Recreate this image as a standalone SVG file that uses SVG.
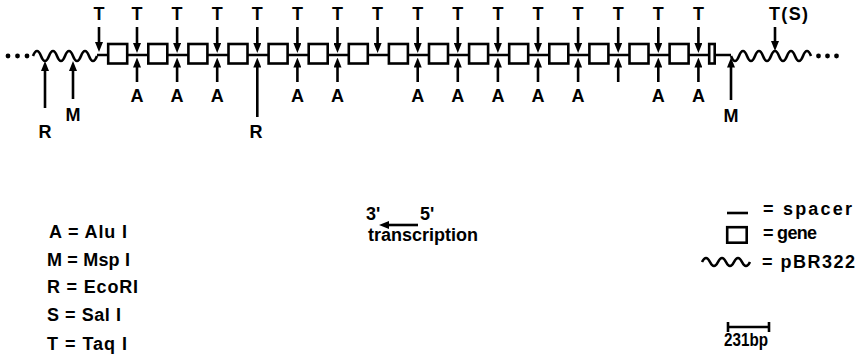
<svg xmlns="http://www.w3.org/2000/svg" width="862" height="356" viewBox="0 0 862 356">
<style>
  text { font-family: "Liberation Sans", Arial, sans-serif; font-weight: bold; fill: #000; }
  .lbl { font-size: 18px; text-anchor: middle; }
  .leg { font-size: 18px; }
  .dna { fill: none; stroke: #000; stroke-width: 2.6; }
  .gene { fill: #fff; stroke: #000; stroke-width: 2.6; }
  .arr { fill: none; stroke: #000; stroke-width: 2.6; marker-end: url(#ah); }
  .dot { fill: #000; }
</style>
<defs>
  <marker id="ah" viewBox="0 0 10 8" refX="1" refY="4" markerWidth="10" markerHeight="8" markerUnits="userSpaceOnUse" orient="auto">
    <path d="M0,0 L10,4 L0,8 z" fill="#000"/>
  </marker>
</defs>
<rect width="862" height="356" fill="#fff"/>

<g id="dna">
  <circle class="dot" cx="8" cy="56" r="2.4"/>
  <circle class="dot" cx="17.5" cy="56" r="2.4"/>
  <circle class="dot" cx="27" cy="56" r="2.4"/>
  <path class="dna" d="M33,56 q4,-10 8,0 t8,0 t8,0 t8,0 t8,0 t8,0 t8,0 t8,0"/>
  <line class="dna" x1="97" y1="55" x2="731" y2="55"/>
  <path class="dna" d="M731,56 q4,10 8,0 t8,0 t8,0 t8,0 t8,0 t8,0 t8,0 t8,0 t8,0 t8,0"/>
  <circle class="dot" cx="818.5" cy="56" r="2.4"/>
  <circle class="dot" cx="827.5" cy="56" r="2.4"/>
  <circle class="dot" cx="836.5" cy="56" r="2.4"/>
  <g id="genes">
    <rect class="gene" x="108.2" y="44" width="19" height="19.5"/>
    <rect class="gene" x="148.3" y="44" width="19" height="19.5"/>
    <rect class="gene" x="188.4" y="44" width="19" height="19.5"/>
    <rect class="gene" x="228.5" y="44" width="19" height="19.5"/>
    <rect class="gene" x="268.6" y="44" width="19" height="19.5"/>
    <rect class="gene" x="308.7" y="44" width="19" height="19.5"/>
    <rect class="gene" x="348.8" y="44" width="19" height="19.5"/>
    <rect class="gene" x="388.9" y="44" width="19" height="19.5"/>
    <rect class="gene" x="429.0" y="44" width="19" height="19.5"/>
    <rect class="gene" x="469.1" y="44" width="19" height="19.5"/>
    <rect class="gene" x="509.2" y="44" width="19" height="19.5"/>
    <rect class="gene" x="549.3" y="44" width="19" height="19.5"/>
    <rect class="gene" x="589.4" y="44" width="19" height="19.5"/>
    <rect class="gene" x="629.5" y="44" width="19" height="19.5"/>
    <rect class="gene" x="669.6" y="44" width="19" height="19.5"/>
    <rect class="gene" x="709.2" y="44" width="5.5" height="19.5"/>
  </g>
</g>

<g id="connectors">
  <!-- TaqI sites (top) -->
  <line class="arr" x1="99" y1="27" x2="99" y2="43"/>
  <line class="arr" x1="137" y1="27" x2="137" y2="44"/>
  <line class="arr" x1="177.1" y1="27" x2="177.1" y2="44"/>
  <line class="arr" x1="217.2" y1="27" x2="217.2" y2="44"/>
  <line class="arr" x1="257.3" y1="27" x2="257.3" y2="44"/>
  <line class="arr" x1="297.4" y1="27" x2="297.4" y2="44"/>
  <line class="arr" x1="337.5" y1="27" x2="337.5" y2="44"/>
  <line class="arr" x1="377.6" y1="27" x2="377.6" y2="44"/>
  <line class="arr" x1="417.7" y1="27" x2="417.7" y2="44"/>
  <line class="arr" x1="457.8" y1="27" x2="457.8" y2="44"/>
  <line class="arr" x1="497.9" y1="27" x2="497.9" y2="44"/>
  <line class="arr" x1="538" y1="27" x2="538" y2="44"/>
  <line class="arr" x1="578.1" y1="27" x2="578.1" y2="44"/>
  <line class="arr" x1="618.2" y1="27" x2="618.2" y2="44"/>
  <line class="arr" x1="658.3" y1="27" x2="658.3" y2="44"/>
  <line class="arr" x1="698.4" y1="27" x2="698.4" y2="44"/>
  <line class="arr" x1="775" y1="27" x2="775" y2="42"/>
  <!-- AluI sites (bottom) -->
  <line class="arr" x1="137" y1="82" x2="137" y2="66.5"/>
  <line class="arr" x1="177.1" y1="82" x2="177.1" y2="66.5"/>
  <line class="arr" x1="217.2" y1="82" x2="217.2" y2="66.5"/>
  <line class="arr" x1="297.4" y1="82" x2="297.4" y2="66.5"/>
  <line class="arr" x1="337.5" y1="82" x2="337.5" y2="66.5"/>
  <line class="arr" x1="417.7" y1="82" x2="417.7" y2="66.5"/>
  <line class="arr" x1="457.8" y1="82" x2="457.8" y2="66.5"/>
  <line class="arr" x1="497.9" y1="82" x2="497.9" y2="66.5"/>
  <line class="arr" x1="538" y1="82" x2="538" y2="66.5"/>
  <line class="arr" x1="578.1" y1="82" x2="578.1" y2="66.5"/>
  <line class="arr" x1="618.2" y1="82" x2="618.2" y2="66.5"/>
  <line class="arr" x1="658.3" y1="82" x2="658.3" y2="66.5"/>
  <line class="arr" x1="698.4" y1="82" x2="698.4" y2="66.5"/>
  <!-- EcoRI and MspI sites -->
  <line class="arr" x1="45" y1="108" x2="45" y2="70"/>
  <line class="arr" x1="73" y1="99" x2="73" y2="70"/>
  <line class="arr" x1="257.3" y1="117" x2="257.3" y2="66.5"/>
  <line class="arr" x1="731" y1="100" x2="731" y2="66.5"/>
</g>

<g id="site-labels">
  <g id="labels-T">
    <text class="lbl" x="99" y="20">T</text>
    <text class="lbl" x="137" y="20">T</text>
    <text class="lbl" x="177.1" y="20">T</text>
    <text class="lbl" x="217.2" y="20">T</text>
    <text class="lbl" x="257.3" y="20">T</text>
    <text class="lbl" x="297.4" y="20">T</text>
    <text class="lbl" x="337.5" y="20">T</text>
    <text class="lbl" x="377.6" y="20">T</text>
    <text class="lbl" x="417.7" y="20">T</text>
    <text class="lbl" x="457.8" y="20">T</text>
    <text class="lbl" x="497.9" y="20">T</text>
    <text class="lbl" x="538" y="20">T</text>
    <text class="lbl" x="578.1" y="20">T</text>
    <text class="lbl" x="618.2" y="20">T</text>
    <text class="lbl" x="658.3" y="20">T</text>
    <text class="lbl" x="698.4" y="20">T</text>
    <text class="leg" x="769" y="20" textLength="39" lengthAdjust="spacing">T(S)</text>
  </g>
  <g id="labels-A">
    <text class="lbl" x="137" y="102">A</text>
    <text class="lbl" x="177.1" y="102">A</text>
    <text class="lbl" x="217.2" y="102">A</text>
    <text class="lbl" x="297.4" y="102">A</text>
    <text class="lbl" x="337.5" y="102">A</text>
    <text class="lbl" x="417.7" y="102">A</text>
    <text class="lbl" x="457.8" y="102">A</text>
    <text class="lbl" x="497.9" y="102">A</text>
    <text class="lbl" x="538" y="102">A</text>
    <text class="lbl" x="578.1" y="102">A</text>
    <text class="lbl" x="658.3" y="102">A</text>
    <text class="lbl" x="698.4" y="102">A</text>
  </g>
  <g id="labels-RM">
    <text class="lbl" x="45" y="138">R</text>
    <text class="lbl" x="73" y="121">M</text>
    <text class="lbl" x="256" y="138">R</text>
    <text class="lbl" x="731" y="122">M</text>
  </g>
</g>

<g id="legend-enzymes">
  <text class="leg" x="49" y="238" textLength="78" lengthAdjust="spacing">A = Alu I</text>
  <text class="leg" x="47" y="266" textLength="83" lengthAdjust="spacing">M = Msp I</text>
  <text class="leg" x="47" y="293" textLength="91" lengthAdjust="spacing">R = EcoRI</text>
  <text class="leg" x="47" y="321" textLength="74" lengthAdjust="spacing">S = Sal I</text>
  <text class="leg" x="47" y="350" textLength="80" lengthAdjust="spacing">T = Taq I</text>
</g>

<g id="legend-transcription">
  <text class="leg" x="366" y="220">3'</text>
  <text class="leg" x="420" y="220">5'</text>
  <line class="arr" x1="418" y1="225" x2="388" y2="225"/>
  <text class="leg" x="368" y="241" textLength="110" lengthAdjust="spacing">transcription</text>
</g>

<g id="legend-symbols">
  <line class="dna" x1="727" y1="213" x2="748" y2="213"/>
  <text class="leg" x="763" y="215" textLength="89" lengthAdjust="spacing">= spacer</text>
  <rect class="gene" x="727.2" y="227.2" width="19.5" height="15.5"/>
  <text class="leg" x="763" y="239" textLength="54" lengthAdjust="spacing">= gene</text>
  <path class="dna" d="M702,262 q4,-8 8,0 t8,0 t8,0 t8,0 t8,0 t8,0" stroke-width="2.2"/>
  <text class="leg" x="762" y="268" textLength="93" lengthAdjust="spacing">= pBR322</text>
</g>

<g id="legend-scale">
  <line class="dna" x1="728" y1="327" x2="769" y2="327" stroke-width="2.2"/>
  <line class="dna" x1="728" y1="322" x2="728" y2="332" stroke-width="2.2"/>
  <line class="dna" x1="769" y1="322" x2="769" y2="332" stroke-width="2.2"/>
  <text class="leg" x="724" y="346" font-size="17" textLength="44" lengthAdjust="spacingAndGlyphs">231bp</text>
</g>
</svg>
